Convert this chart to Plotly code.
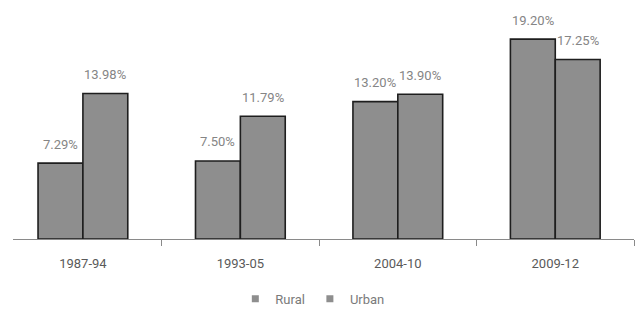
import plotly.graph_objects as go

periods = ["1987-94", "1993-05", "2004-10", "2009-12"]
rural = [7.29, 7.50, 13.20, 19.20]
urban = [13.98, 11.79, 13.90, 17.25]
series_names = ["Rural", "Urban"]

FILL = "#8e8e8e"
EDGE = "#1e1e1e"
FONT = "Roboto, DejaVu Sans, sans-serif"

fig = go.Figure()
for name, vals in zip(series_names, [rural, urban]):
    fig.add_trace(go.Bar(
        x=periods, y=vals, name=name, showlegend=False,
        marker=dict(color=FILL, line=dict(color=EDGE, width=1.6)),
        offsetgroup=name,
    ))
    # legend entries with small square swatches
    fig.add_trace(go.Scatter(
        x=[None], y=[None], mode="markers", name=name,
        marker=dict(symbol="square", size=7, color=FILL),
        showlegend=True,
    ))

# value labels above each bar
for i, p in enumerate(periods):
    for j, vals in enumerate([rural, urban]):
        fig.add_annotation(
            x=p, y=vals[i], text=f"{vals[i]:.2f}%", showarrow=False,
            xshift=(-22.5 if j == 0 else 22.5), yshift=19,
            font=dict(family=FONT, size=13, color="#858585"),
        )

fig.update_layout(
    width=641, height=320,
    margin=dict(l=13, r=7, t=10, b=80),
    paper_bgcolor="white", plot_bgcolor="white",
    barmode="group", bargap=0.43, bargroupgap=0,
    font=dict(family=FONT, color="#5a5a5a"),
    legend=dict(orientation="h", x=0.482, xanchor="center", y=-0.19, yanchor="top",
                font=dict(size=13, color="#7a7a7a"), itemwidth=30),
    xaxis=dict(
        type="category", range=[-0.444, 3.5],
        showline=True, linecolor="#8a8a8a", linewidth=1,
        ticks="outside", tickson="boundaries", ticklen=6, tickcolor="#8a8a8a",
        ticklabelstandoff=12,
        tickfont=dict(size=13, color="#5a5a5a"), showgrid=False,
    ),
    yaxis=dict(range=[0, 22], visible=False, showgrid=False, zeroline=False),
)

fig.write_html("out.html")
